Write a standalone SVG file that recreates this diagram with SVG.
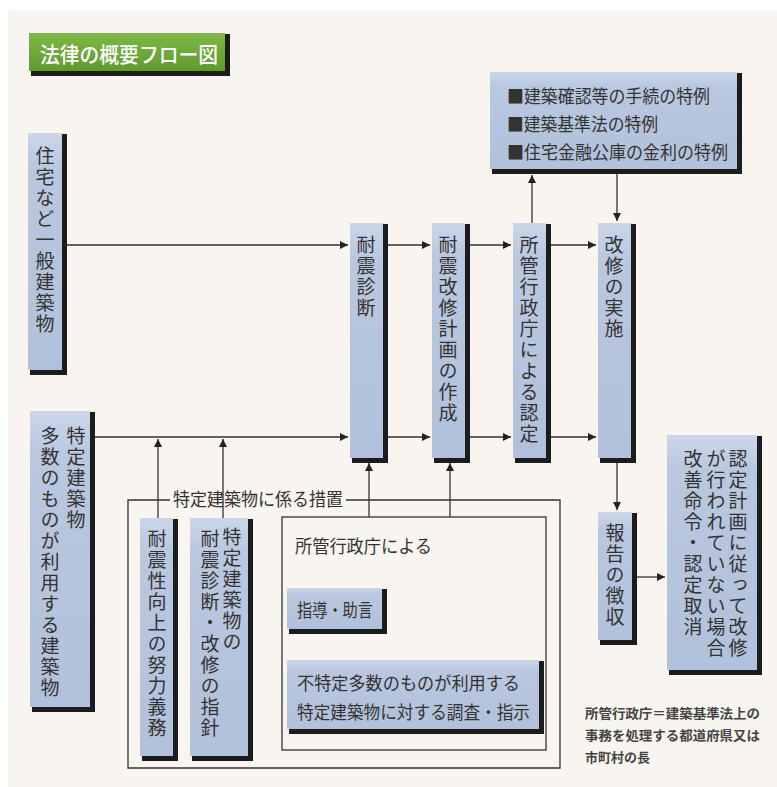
<svg xmlns="http://www.w3.org/2000/svg" width="777" height="787" viewBox="0 0 777 787">
<style>
.bx{fill:url(#bg)}
.sh{fill:#1c1c1c}
.t{font-family:"Noto Sans CJK JP","Noto Sans",sans-serif;fill:#333;font-size:18px}
.v{font-family:"Noto Sans CJK JP","Noto Sans",sans-serif;fill:#333;font-size:19px;writing-mode:vertical-rl;text-orientation:upright;letter-spacing:2px}
.ln{stroke:#333;stroke-width:1.3;fill:none}
.ar{stroke:#333;stroke-width:1.3;fill:none;marker-end:url(#ah)}
.fn{font-family:"Noto Sans CJK JP",serif;fill:#444;font-size:13px;font-weight:bold}
</style>
<defs>
<linearGradient id="bg" x1="0" y1="0" x2="0" y2="1">
<stop offset="0" stop-color="#cbd6e9"/>
<stop offset="0.15" stop-color="#b9c7df"/>
<stop offset="1" stop-color="#b2c1db"/>
</linearGradient>
<linearGradient id="gg" x1="0" y1="0" x2="0" y2="1">
<stop offset="0" stop-color="#7fb846"/>
<stop offset="1" stop-color="#5f9a2e"/>
</linearGradient>
<marker id="ah" viewBox="0 0 10 10" refX="10" refY="5" markerWidth="8" markerHeight="8" markerUnits="userSpaceOnUse" orient="auto">
<path d="M0,0 L10,5 L0,10 z" fill="#222"/>
</marker>
</defs>
<rect x="0" y="0" width="777" height="787" fill="#ffffff"/>
<rect x="8" y="10" width="769" height="777" fill="#f8f4ef"/>

<g id="title">
<rect x="31" y="34" width="199" height="42" class="sh"/>
<rect x="29" y="33" width="196" height="38" fill="url(#gg)"/>
<text x="40" y="62" font-family="Noto Sans CJK JP,sans-serif" font-size="21" fill="#fff" font-weight="500" textLength="178" lengthAdjust="spacingAndGlyphs">法律の概要フロー図</text>
</g>

<g id="n-general">
<rect x="30" y="134" width="37" height="241" class="sh"/>
<rect x="28" y="133" width="34" height="237" class="bx"/>
<text x="45" y="146" class="v">住宅など一般建築物</text>
</g>

<g id="n-specific">
<rect x="32" y="412" width="63" height="300" class="sh"/>
<rect x="30" y="411" width="60" height="296" class="bx"/>
<text x="76" y="426" class="v">特定建築物</text>
<text x="50" y="426" class="v">多数のものが利用する建築物</text>
</g>

<g id="n-diag">
<rect x="352" y="224" width="36" height="239" class="sh"/>
<rect x="350" y="223" width="33" height="235" class="bx"/>
<text x="366" y="235" class="v">耐震診断</text>
</g>

<g id="n-plan">
<rect x="434" y="224" width="36" height="239" class="sh"/>
<rect x="432" y="223" width="33" height="235" class="bx"/>
<text x="448" y="235" class="v">耐震改修計画の作成</text>
</g>

<g id="n-approve">
<rect x="515" y="224" width="36" height="239" class="sh"/>
<rect x="513" y="223" width="33" height="235" class="bx"/>
<text x="529" y="235" class="v">所管行政庁による認定</text>
</g>

<g id="n-exec">
<rect x="600" y="224" width="36" height="239" class="sh"/>
<rect x="598" y="223" width="33" height="235" class="bx"/>
<text x="614" y="235" class="v">改修の実施</text>
</g>

<g id="n-special">
<rect x="492" y="73" width="250" height="101" class="sh"/>
<rect x="490" y="72" width="247" height="97" class="bx"/>
<text x="507" y="103" class="t" font-size="19" textLength="203" lengthAdjust="spacingAndGlyphs">■建築確認等の手続の特例</text>
<text x="507" y="131" class="t" font-size="19" textLength="151" lengthAdjust="spacingAndGlyphs">■建築基準法の特例</text>
<text x="507" y="159" class="t" font-size="19" textLength="221" lengthAdjust="spacingAndGlyphs">■住宅金融公庫の金利の特例</text>
</g>

<g id="n-report">
<rect x="600" y="513" width="37" height="132" class="sh"/>
<rect x="598" y="512" width="34" height="128" class="bx"/>
<text x="615" y="523" class="v">報告の徴収</text>
</g>

<g id="n-order">
<rect x="669" y="436" width="93" height="239" class="sh"/>
<rect x="667" y="435" width="90" height="235" class="bx"/>
<text x="738" y="449" class="v">認定計画に従って改修</text>
<text x="716" y="449" class="v">が行われていない場合</text>
<text x="693" y="449" class="v">改善命令・認定取消</text>
</g>

<g id="n-effort">
<rect x="142" y="519" width="36" height="242" class="sh"/>
<rect x="140" y="518" width="33" height="238" class="bx"/>
<text x="157" y="529" class="v" letter-spacing="3">耐震性向上の努力義務</text>
</g>

<g id="n-guide">
<rect x="192" y="519" width="61" height="242" class="sh"/>
<rect x="190" y="518" width="58" height="238" class="bx"/>
<text x="232" y="527" class="v">特定建築物の</text>
<text x="210" y="529" class="v" letter-spacing="3">耐震診断・改修の指針</text>
</g>

<g id="g-measures">
<path class="ln" d="M170,500 H128 V768 H560 V500 H346"/>
<text x="173" y="506" class="t" textLength="170" lengthAdjust="spacingAndGlyphs">特定建築物に係る措置</text>
<rect x="282" y="517" width="264" height="233" class="ln"/>
<text x="295" y="553" class="t" textLength="137" lengthAdjust="spacingAndGlyphs">所管行政庁による</text>
</g>

<g id="n-advice">
<rect x="289" y="589" width="98" height="45" class="sh"/>
<rect x="287" y="588" width="95" height="41" class="bx"/>
<text x="297" y="617" class="t" textLength="76" lengthAdjust="spacingAndGlyphs">指導・助言</text>
</g>

<g id="n-inspect">
<rect x="289" y="661" width="255" height="73" class="sh"/>
<rect x="287" y="660" width="252" height="69" class="bx"/>
<text x="297" y="690" class="t" textLength="223" lengthAdjust="spacingAndGlyphs">不特定多数のものが利用する</text>
<text x="297" y="719" class="t" textLength="233" lengthAdjust="spacingAndGlyphs">特定建築物に対する調査・指示</text>
</g>

<g id="connectors">
<line class="ar" x1="67" y1="245" x2="348" y2="245"/>
<line class="ar" x1="388" y1="245" x2="430" y2="245"/>
<line class="ar" x1="470" y1="245" x2="511" y2="245"/>
<line class="ar" x1="551" y1="245" x2="596" y2="245"/>
<line class="ar" x1="95" y1="437" x2="348" y2="437"/>
<line class="ar" x1="388" y1="437" x2="430" y2="437"/>
<line class="ar" x1="470" y1="437" x2="511" y2="437"/>
<line class="ar" x1="551" y1="437" x2="596" y2="437"/>
<line class="ar" x1="158" y1="518" x2="158" y2="439"/>
<line class="ar" x1="223" y1="518" x2="223" y2="439"/>
<line class="ar" x1="369" y1="517" x2="369" y2="463"/>
<line class="ar" x1="450" y1="517" x2="450" y2="463"/>
<line class="ar" x1="532" y1="223" x2="532" y2="175"/>
<line class="ar" x1="617" y1="174" x2="617" y2="221"/>
<line class="ar" x1="617" y1="463" x2="617" y2="510"/>
<line class="ar" x1="637" y1="577" x2="665" y2="577"/>
</g>

<g id="note">
<text x="585" y="718" class="fn" textLength="175" lengthAdjust="spacingAndGlyphs">所管行政庁＝建築基準法上の</text>
<text x="585" y="740" class="fn" textLength="175" lengthAdjust="spacingAndGlyphs">事務を処理する都道府県又は</text>
<text x="585" y="762" class="fn">市町村の長</text>
</g>
</svg>
